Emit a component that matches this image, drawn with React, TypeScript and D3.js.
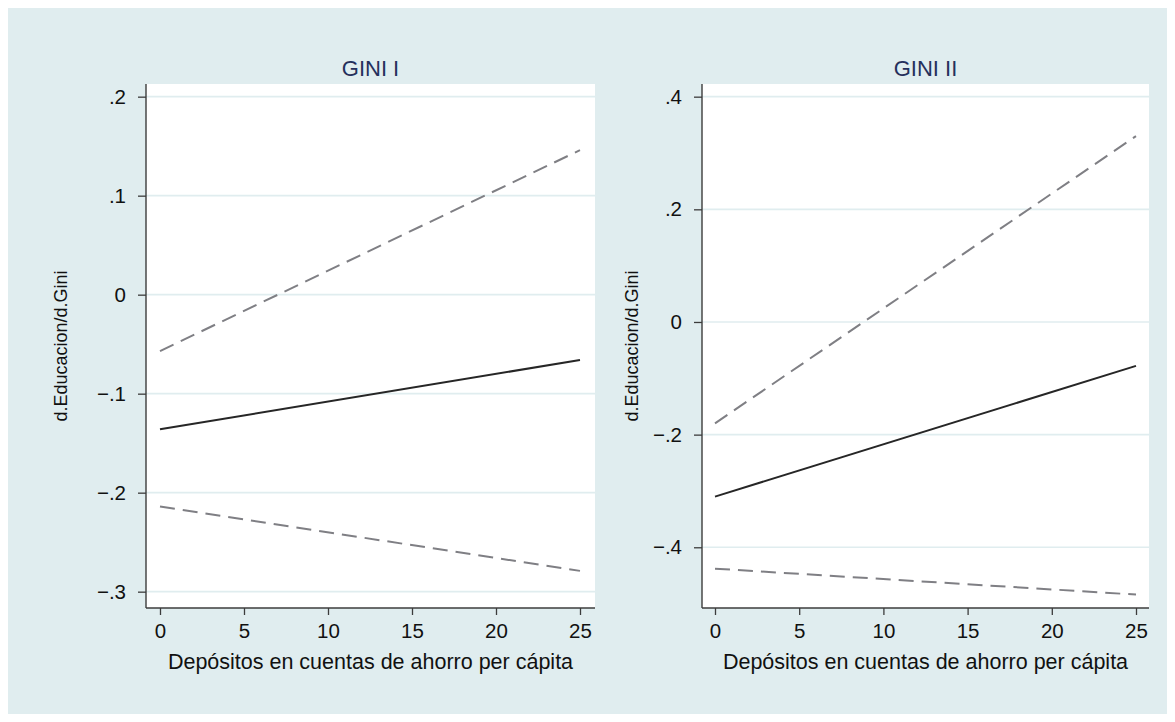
import React, { useEffect, useRef } from 'react';
import * as d3 from 'd3';

// x values at the ends of every line
const xEnds = [0, 25];
const xTicks = [0, 5, 10, 15, 20, 25];

// GINI I
const gini1Est = [-0.136, -0.066];
const gini1Upper = [-0.057, 0.146];
const gini1Lower = [-0.214, -0.279];
const gini1Ticks = [0.2, 0.1, 0, -0.1, -0.2, -0.3];

// GINI II
const gini2Est = [-0.31, -0.078];
const gini2Upper = [-0.18, 0.33];
const gini2Lower = [-0.438, -0.484];
const gini2Ticks = [0.4, 0.2, 0, -0.2, -0.4];

const panelTitles = ['GINI I', 'GINI II'];
const xTitle = 'Depósitos en cuentas de ahorro per cápita';
const yTitle = 'd.Educacion/d.Gini';

const W = 1175;
const H = 722;
const BG = '#e0edef';
const FONT = '"Liberation Sans", Arial, Helvetica, sans-serif';

const fmt = (v) => {
  if (v === 0) return '0';
  const s = d3.format('.1f')(Math.abs(v)).replace(/^0/, '');
  return v < 0 ? '\u2212' + s : s;
};

const panels = [
  {
    title: panelTitles[0],
    est: gini1Est, upper: gini1Upper, lower: gini1Lower, ticks: gini1Ticks,
    box: { left: 146, right: 595, top: 84, bottom: 608 },
    xDom: [-0.833, 25.893],
    yDom: [-0.3165, 0.2128],
    yTitleX: 67,
  },
  {
    title: panelTitles[1],
    est: gini2Est, upper: gini2Upper, lower: gini2Lower, ticks: gini2Ticks,
    box: { left: 702, right: 1149, top: 84, bottom: 608 },
    xDom: [-0.772, 25.772],
    yDom: [-0.5078, 0.4225],
    yTitleX: 638,
  },
];

const App = () => {
  const svgRef = useRef(null);

  useEffect(() => {
    const svg = d3.select(svgRef.current);
    svg.selectAll('*').remove();

    svg.append('rect')
      .attr('x', 0).attr('y', 0).attr('width', W).attr('height', H)
      .attr('fill', '#ffffff');
    svg.append('rect')
      .attr('x', 8).attr('y', 8).attr('width', W - 16).attr('height', H - 16)
      .attr('fill', BG);

    panels.forEach((p) => {
      const { left, right, top, bottom } = p.box;
      const x = d3.scaleLinear().domain(p.xDom).range([left, right]);
      const y = d3.scaleLinear().domain(p.yDom).range([bottom, top]);
      const g = svg.append('g');

      g.append('rect')
        .attr('x', left).attr('y', top)
        .attr('width', right - left).attr('height', bottom - top)
        .attr('fill', '#ffffff');

      // horizontal grid
      g.selectAll('.grid')
        .data(p.ticks)
        .enter()
        .append('line')
        .attr('x1', left).attr('x2', right)
        .attr('y1', (d) => y(d)).attr('y2', (d) => y(d))
        .attr('stroke', BG)
        .attr('stroke-width', 1.6);

      const line = d3.line()
        .x((d, i) => x(xEnds[i]))
        .y((d) => y(d));

      [p.upper, p.lower].forEach((s) => {
        g.append('path')
          .attr('d', line(s))
          .attr('fill', 'none')
          .attr('stroke', '#7f7f84')
          .attr('stroke-width', 2)
          .attr('stroke-dasharray', '15 8');
      });

      g.append('path')
        .attr('d', line(p.est))
        .attr('fill', 'none')
        .attr('stroke', '#262626')
        .attr('stroke-width', 2);

      // axes
      const yAxis = g.append('g').attr('transform', `translate(${left},0)`)
        .call(d3.axisLeft(y).tickValues(p.ticks).tickSize(8).tickPadding(12).tickFormat(fmt));
      const xAxis = g.append('g').attr('transform', `translate(0,${bottom})`)
        .call(d3.axisBottom(x).tickValues(xTicks).tickSize(7).tickPadding(8).tickFormat(d3.format('d')));

      [yAxis, xAxis].forEach((a) => {
        a.select('.domain').remove();
        a.selectAll('.tick line').attr('stroke', '#3c3c3c').attr('stroke-width', 1.3);
        a.selectAll('.tick text')
          .attr('fill', '#111111')
          .style('font-family', FONT)
          .style('font-size', '20.5px');
      });

      g.append('line')
        .attr('x1', left).attr('x2', left).attr('y1', top).attr('y2', bottom)
        .attr('stroke', '#3c3c3c').attr('stroke-width', 1.4);
      g.append('line')
        .attr('x1', left).attr('x2', right).attr('y1', bottom).attr('y2', bottom)
        .attr('stroke', '#3c3c3c').attr('stroke-width', 1.4);

      g.append('text')
        .attr('x', (left + right) / 2).attr('y', 76)
        .attr('text-anchor', 'middle')
        .attr('fill', '#25305c')
        .style('font-family', FONT)
        .style('font-size', '22px')
        .text(p.title);

      g.append('text')
        .attr('x', (left + right) / 2).attr('y', 669)
        .attr('text-anchor', 'middle')
        .attr('fill', '#111111')
        .style('font-family', FONT)
        .style('font-size', '21.5px')
        .text(xTitle);

      g.append('text')
        .attr('transform', `translate(${p.yTitleX},${(top + bottom) / 2}) rotate(-90)`)
        .attr('text-anchor', 'middle')
        .attr('fill', '#111111')
        .style('font-family', FONT)
        .style('font-size', '18px')
        .text(yTitle);
    });
  }, []);

  return <svg ref={svgRef} width={W} height={H} style={{ display: 'block', position: 'absolute', left: 0, top: 0 }}></svg>;
};

export default App;
